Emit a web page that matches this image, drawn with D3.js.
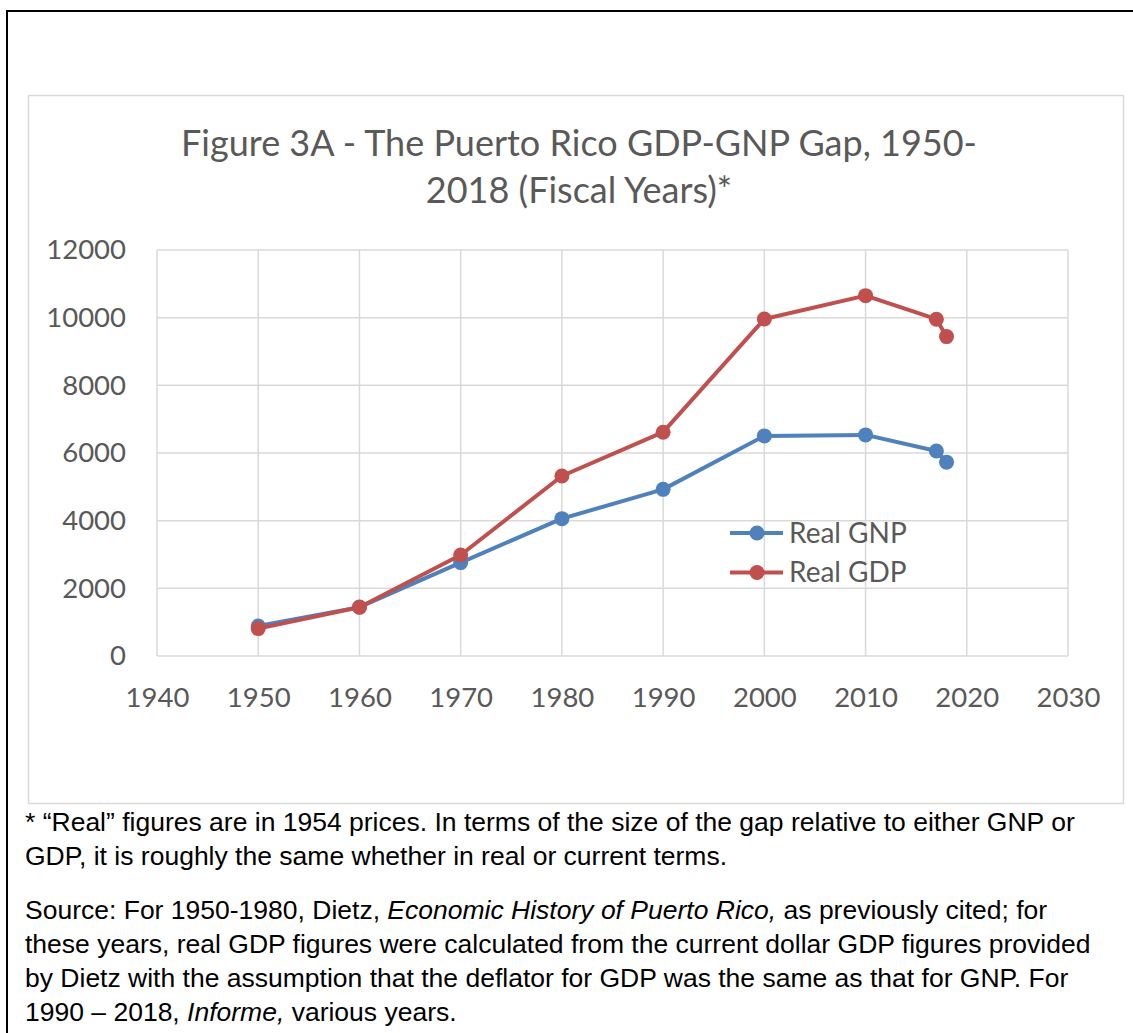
<!DOCTYPE html>
<html>
<head>
<meta charset="utf-8">
<script src="https://cdn.jsdelivr.net/npm/d3@7"></script>
<style>
  html, body { margin: 0; padding: 0; background: #fff; }
  svg { display: block; }
</style>
</head>
<body>
<svg id="chart" width="1133" height="1033"></svg>
<script>
// ---- data ----
const years = [1950, 1960, 1970, 1980, 1990, 2000, 2010, 2017, 2018];
const realGNP = [885, 1445, 2760, 4060, 4925, 6505, 6535, 6060, 5730];
const realGDP = [810, 1440, 2985, 5320, 6615, 9960, 10650, 9955, 9440];
const seriesNames = ["Real GNP", "Real GDP"];
const xTicks = [1940, 1950, 1960, 1970, 1980, 1990, 2000, 2010, 2020, 2030];
const yTicks = [0, 2000, 4000, 6000, 8000, 10000, 12000];
const titleLines = ["Figure 3A - The Puerto Rico GDP-GNP Gap, 1950-", "2018 (Fiscal Years)*"];

const svg = d3.select("#chart");
const colors = ["#4F81BD", "#C0504D"];
const gridColor = "#d9d9d9";
const chartFont = "Lato, 'Open Sans', sans-serif";

// outer page border (black)
svg.append("path")
  .attr("d", "M7,1040 L7,11 L1140,11")
  .attr("fill", "none").attr("stroke", "#000").attr("stroke-width", 2);

// chart area border
svg.append("rect")
  .attr("x", 28.5).attr("y", 95.5).attr("width", 1095).attr("height", 708)
  .attr("fill", "#fff").attr("stroke", "#d9d9d9").attr("stroke-width", 1.5);

const x = d3.scaleLinear().domain([1940, 2030]).range([157, 1068]);
const y = d3.scaleLinear().domain([0, 12000]).range([656, 250]);

// title
const title = svg.append("text")
  .attr("text-anchor", "middle")
  .attr("font-family", chartFont).attr("font-size", 36).attr("fill", "#595959");
title.selectAll("tspan").data(titleLines).join("tspan")
  .attr("x", 579).attr("y", (d, i) => 156 + i * 47)
  .text(d => d);

// grid
const grid = svg.append("g");
grid.selectAll("line.h").data(yTicks).join("line")
  .attr("x1", x(1940)).attr("x2", x(2030))
  .attr("y1", d => y(d)).attr("y2", d => y(d))
  .attr("stroke", gridColor).attr("stroke-width", 1.5);
grid.selectAll("line.v").data(xTicks).join("line")
  .attr("x1", d => x(d)).attr("x2", d => x(d))
  .attr("y1", y(0)).attr("y2", y(12000))
  .attr("stroke", gridColor).attr("stroke-width", 1.5);

// axes (labels only)
const yAxis = svg.append("g").attr("transform", `translate(${x(1940)},0)`)
  .call(d3.axisLeft(y).tickValues(yTicks).tickSize(0).tickPadding(31).tickFormat(d3.format("d")));
const xAxis = svg.append("g").attr("transform", `translate(0,${y(0)})`)
  .call(d3.axisBottom(x).tickValues(xTicks).tickSize(0).tickPadding(30).tickFormat(d3.format("d")));
[yAxis, xAxis].forEach(a => {
  a.select(".domain").remove();
  a.selectAll("text").attr("font-family", chartFont).attr("font-size", 27.5).attr("fill", "#595959");
});
xAxis.selectAll("text").attr("dy", "0.35em").attr("y", 41);

// lines
const seriesData = [realGNP, realGDP].map(vals => years.map((yr, i) => ({yr, v: vals[i]})));
const line = d3.line().x(d => x(d.yr)).y(d => y(d.v));
seriesData.forEach((s, k) => {
  const g = svg.append("g");
  g.append("path").datum(s).attr("d", line)
    .attr("fill", "none").attr("stroke", colors[k]).attr("stroke-width", 4)
    .attr("stroke-linejoin", "round").attr("stroke-linecap", "round");
  g.selectAll("circle").data(s).join("circle")
    .attr("cx", d => x(d.yr)).attr("cy", d => y(d.v)).attr("r", 7.5)
    .attr("fill", colors[k]);
});

// legend
const legend = svg.append("g");
seriesNames.forEach((name, k) => {
  const ly = 533 + k * 39.5;
  legend.append("line").attr("x1", 730).attr("x2", 783).attr("y1", ly).attr("y2", ly)
    .attr("stroke", colors[k]).attr("stroke-width", 4);
  legend.append("circle").attr("cx", 757).attr("cy", ly).attr("r", 7.5).attr("fill", colors[k]);
  legend.append("text").attr("x", 789).attr("y", ly).attr("dy", "0.35em")
    .attr("font-family", chartFont).attr("font-size", 28).attr("fill", "#595959").text(name);
});

// footnotes
const noteFont = "'Liberation Sans', Arial, sans-serif";
const notes = [
  [{t: "* \u201CReal\u201D figures are in 1954 prices. In terms of the size of the gap relative to either GNP or"}],
  [{t: "GDP, it is roughly the same whether in real or current terms."}],
  [{t: "Source: For 1950-1980, Dietz, "}, {t: "Economic History of Puerto Rico,", i: true}, {t: " as previously cited; for"}],
  [{t: "these years, real GDP figures were calculated from the current dollar GDP figures provided"}],
  [{t: "by Dietz with the assumption that the deflator for GDP was the same as that for GNP. For"}],
  [{t: "1990 \u2013 2018, "}, {t: "Informe,", i: true}, {t: " various years."}]
];
const noteY = [831, 865, 919, 953, 987, 1021];
notes.forEach((parts, li) => {
  const t = svg.append("text").attr("x", 25).attr("y", noteY[li])
    .attr("font-family", noteFont).attr("font-size", 26.5).attr("fill", "#000");
  parts.forEach(p => t.append("tspan").attr("font-style", p.i ? "italic" : "normal").text(p.t));
});
</script>
</body>
</html>
